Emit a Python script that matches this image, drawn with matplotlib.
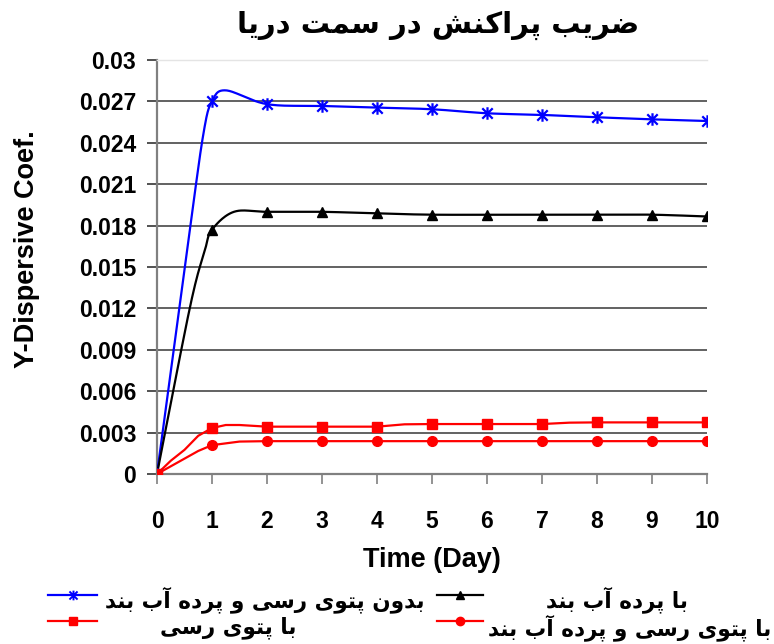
import numpy as np
import matplotlib
matplotlib.use('Agg')
import matplotlib.pyplot as plt
from matplotlib.path import Path
from matplotlib.lines import Line2D

# Values (time in days, coefficient)
blue_t = [0, 0.6, 0.85, 1, 1.25, 2, 3, 4, 5, 6, 7, 8, 9, 10]
blue_v = [0, 0.0178, 0.0248, 0.0270, 0.0278, 0.0268, 0.02667, 0.02655, 0.02643, 0.02614,
          0.02602, 0.02585, 0.0257, 0.02558]

black_t = [0, 0.6, 0.87, 1, 1.4, 2, 3, 4, 5, 6, 7, 8, 9, 10]
black_v = [0, 0.0121, 0.0162, 0.0177, 0.0190, 0.0190, 0.0190, 0.01888, 0.01879, 0.01879,
           0.01879, 0.01879, 0.01879, 0.01866]

square_t = [0, 0.25, 0.5, 0.75, 1, 1.25, 1.5, 2, 3, 4, 4.5, 5, 6, 7, 7.5, 8, 9, 10]
square_v = [0, 0.00096, 0.00175, 0.00277, 0.00333, 0.00355, 0.00355, 0.00343, 0.00343, 0.00343,
            0.0036, 0.00362, 0.00362, 0.00362, 0.00372, 0.00374, 0.00374, 0.00374]

circle_t = [0, 0.75, 1, 1.5, 2, 3, 4, 5, 6, 7, 8, 9, 10]
circle_v = [0, 0.00167, 0.00209, 0.00235, 0.00238, 0.00238, 0.00238, 0.00238,
            0.00238, 0.00238, 0.00238, 0.00238, 0.00238]

ytick_vals = [0, 0.003, 0.006, 0.009, 0.012, 0.015, 0.018, 0.021, 0.024, 0.027, 0.03]
ytick_labels = ['0', '0.003', '0.006', '0.009', '0.012', '0.015', '0.018', '0.021', '0.024', '0.027', '0.03']
xtick_vals = list(range(11))

title = 'ضریب پراکنش در سمت دریا'
names = ['بدون پتوی رسی و پرده آب بند', 'با پرده آب بند', 'با پتوی رسی', 'با پتوی رسی و پرده آب بند']

# matplotlib does no Arabic shaping, so pick presentation forms by hand
# (isolated, final, initial, medial)
FORMS = {
    '\u0627': ('\uFE8D', '\uFE8E', None, None),
    '\u0622': ('\uFE81', '\uFE82', None, None),
    '\u0628': ('\uFE8F', '\uFE90', '\uFE91', '\uFE92'),
    '\u067E': ('\uFB56', '\uFB57', '\uFB58', '\uFB59'),
    '\u062A': ('\uFE95', '\uFE96', '\uFE97', '\uFE98'),
    '\u062F': ('\uFEA9', '\uFEAA', None, None),
    '\u0631': ('\uFEAD', '\uFEAE', None, None),
    '\u0633': ('\uFEB1', '\uFEB2', '\uFEB3', '\uFEB4'),
    '\u0634': ('\uFEB5', '\uFEB6', '\uFEB7', '\uFEB8'),
    '\u0636': ('\uFEBD', '\uFEBE', '\uFEBF', '\uFEC0'),
    '\u06A9': ('\uFB8E', '\uFB8F', '\uFB90', '\uFB91'),
    '\u0645': ('\uFEE1', '\uFEE2', '\uFEE3', '\uFEE4'),
    '\u0646': ('\uFEE5', '\uFEE6', '\uFEE7', '\uFEE8'),
    '\u0647': ('\uFEE9', '\uFEEA', '\uFEEB', '\uFEEC'),
    '\u0648': ('\uFEED', '\uFEEE', None, None),
    '\u06CC': ('\uFBFC', '\uFBFD', '\uFBFE', '\uFBFF'),
}
NORMAL = {'\u064A': '\u06CC', '\u0649': '\u06CC', '\u0643': '\u06A9'}


def shape(text):
    chars = [NORMAL.get(c, c) for c in text]
    out = []
    for i, c in enumerate(chars):
        if c not in FORMS:
            out.append(c)
            continue
        prev = chars[i - 1] if i > 0 else None
        nxt = chars[i + 1] if i + 1 < len(chars) else None
        join_prev = prev in FORMS and FORMS[prev][2] is not None
        join_next = nxt in FORMS and FORMS[c][2] is not None
        f = FORMS[c]
        if join_prev and join_next:
            out.append(f[3])
        elif join_prev:
            out.append(f[1])
        elif join_next:
            out.append(f[2])
        else:
            out.append(f[0])
    return ''.join(out)[::-1]


def smooth(x, y, n=25):
    # Excel style smoothed line: bezier segments with catmull-rom control points
    x = np.asarray(x, float)
    y = np.asarray(y, float)
    px = np.concatenate([[x[0]], x, [x[-1]]])
    py = np.concatenate([[y[0]], y, [y[-1]]])
    s = np.linspace(0, 1, n)
    xs, ys = [], []
    for i in range(len(x) - 1):
        x0, x1, x2, x3 = px[i], px[i + 1], px[i + 2], px[i + 3]
        y0, y1, y2, y3 = py[i], py[i + 1], py[i + 2], py[i + 3]
        cx1, cy1 = x1 + (x2 - x0) / 6, y1 + (y2 - y0) / 6
        cx2, cy2 = x2 - (x3 - x1) / 6, y2 - (y3 - y1) / 6
        a, b, c, d = (1 - s) ** 3, 3 * (1 - s) ** 2 * s, 3 * (1 - s) * s ** 2, s ** 3
        xs.extend(a * x1 + b * cx1 + c * cx2 + d * x2)
        ys.extend(a * y1 + b * cy1 + c * cy2 + d * y2)
    return xs, ys


def at_days(t, v):
    pairs = [(a, b) for a, b in zip(t, v) if float(a).is_integer()]
    return [p[0] for p in pairs], [p[1] for p in pairs]


asterisk = Path([(-1, -1), (1, 1), (-1, 1), (1, -1), (0, -1.2), (0, 1.2)],
                [Path.MOVETO, Path.LINETO, Path.MOVETO, Path.LINETO, Path.MOVETO, Path.LINETO])

BLUE, BLACK, RED = '#0000ff', '#000000', '#ff0000'
fa = 'Liberation Sans'
fp = 'DejaVu Sans'

fig = plt.figure(figsize=(7.74, 6.44), dpi=100)
W, H = 774, 644
ax = fig.add_axes([157 / W, 170 / H, 550 / W, 414 / H])

bx, by = smooth(blue_t, blue_v)
ax.plot(bx, by, color=BLUE, lw=1.6, zorder=3)
mx, my = at_days(blue_t, blue_v)
ax.plot(mx, my, ls='none', marker=asterisk, ms=9, mew=1.6, color=BLUE, zorder=4)

kx, ky = smooth(black_t, black_v)
ax.plot(kx, ky, color=BLACK, lw=1.6, zorder=3)
mx, my = at_days(black_t, black_v)
ax.plot(mx, my, ls='none', marker='^', ms=7.5, color=BLACK, zorder=4)

ax.plot(circle_t, circle_v, color=RED, lw=1.6, zorder=3)
mx, my = at_days(circle_t, circle_v)
ax.plot(mx, my, ls='none', marker='o', ms=7, color=RED, zorder=4)

ax.plot(square_t, square_v, color=RED, lw=1.6, zorder=3)
mx, my = at_days(square_t, square_v)
ax.plot(mx, my, ls='none', marker='s', ms=7, color=RED, zorder=5)

ax.set_xlim(0, 10)
ax.set_ylim(0, 0.03)
ax.set_xticks(xtick_vals, [str(v) for v in xtick_vals])
ax.set_yticks(ytick_vals, ytick_labels)
for lab in ax.get_xticklabels() + ax.get_yticklabels():
    lab.set_fontfamily(fa)
    lab.set_fontweight('bold')
    lab.set_fontsize(16.5)

ax.yaxis.grid(True, color='#555555', lw=1.3)
ax.get_ygridlines()[-1].set_color('#dddddd')
ax.set_axisbelow(True)
for side in ['left', 'bottom']:
    ax.spines[side].set_color('#808080')
    ax.spines[side].set_linewidth(1.6)
ax.spines['top'].set_color('#e4e4e4')
ax.spines['top'].set_linewidth(1)
ax.spines['right'].set_visible(False)
ax.tick_params(axis='y', direction='out', length=7, width=1.2, color='#333333', pad=8)
ax.tick_params(axis='x', direction='out', length=7, width=1.2, color='#808080', pad=19)

fig.text(438 / W, 1 - 25 / H, shape(title), family=fp, weight='bold', fontsize=21,
         ha='center', va='center')
fig.text(432 / W, 1 - 560 / H, 'Time (Day)', family=fa, weight='bold', fontsize=19.5,
         ha='center', va='center')
fig.text(27 / W, 1 - 249 / H, 'Y-Dispersive Coef.', family=fa, weight='bold', fontsize=19.5,
         ha='center', va='center', rotation=90)

# hand placed legend, as in the original
legend_items = [
    (48, 97, 595, BLUE, dict(marker=asterisk, ms=7, mew=1.4), 265, 600, names[0]),
    (437, 483, 595, BLACK, dict(marker='^', ms=6), 617, 600, names[1]),
    (48, 97, 621, RED, dict(marker='s', ms=6), 228, 628, names[2]),
    (437, 483, 621, RED, dict(marker='o', ms=6), 630, 628, names[3]),
]
for x0, x1, yl, col, mk, tx, ty, label in legend_items:
    fig.add_artist(Line2D([x0 / W, x1 / W], [1 - yl / H, 1 - yl / H], color=col, lw=1.6,
                          transform=fig.transFigure))
    fig.add_artist(Line2D([(x0 + x1) / 2 / W], [1 - yl / H], color=col, ls='none',
                          transform=fig.transFigure, **mk))
    fig.text(tx / W, 1 - ty / H, shape(label), family=fp, weight='bold', fontsize=15.5,
             ha='center', va='center')

fig.savefig('out.png', dpi=100)
